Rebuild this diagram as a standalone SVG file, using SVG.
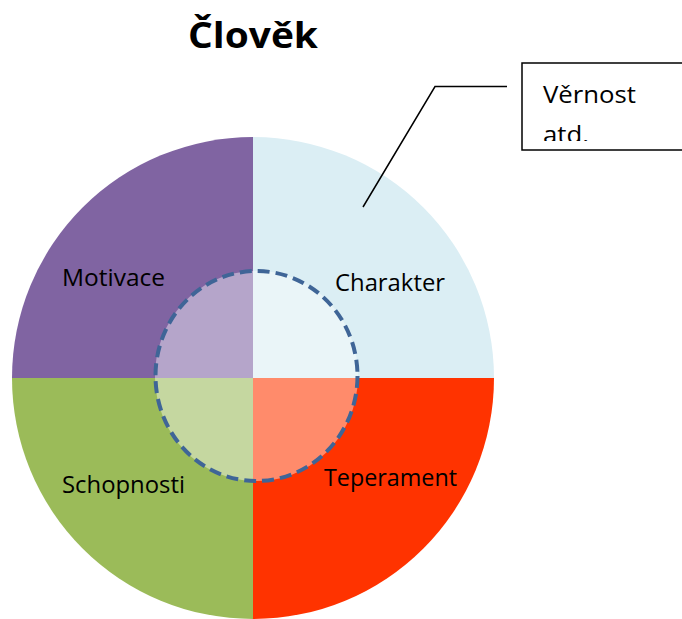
<svg xmlns="http://www.w3.org/2000/svg" width="682" height="619" viewBox="0 0 682 619">
<style>
.lbl{font-family:"Open Sans","Liberation Sans",sans-serif;font-size:24px;fill:#000}
.ttl{font-family:"Open Sans","Liberation Sans",sans-serif;font-size:35px;font-weight:bold;fill:#000}
.cn{fill:none;stroke:#000;stroke-width:1.5}
</style>
<defs>
<clipPath id="boxclip"><rect x="522" y="63" width="160" height="78"/></clipPath>
</defs>
<rect width="682" height="619" fill="#fff"/>
<text class="ttl" x="188" y="48" textLength="130" lengthAdjust="spacingAndGlyphs">Člověk</text>
<g id="motivace">
<path d="M253,378 L12,378 A241,241 0 0 1 253,137 Z" fill="#8064a2"/>
<path d="M253,378 L155,378 A101,105 0 0 1 253,271 Z" fill="#b5a5ca"/>
<text class="lbl" x="62" y="286" textLength="103" lengthAdjust="spacingAndGlyphs">Motivace</text>
</g>
<g id="charakter">
<path d="M253,378 L253,137 A241,241 0 0 1 494,378 Z" fill="#dbeef4"/>
<path d="M253,378 L253,271 A101,105 0 0 1 358,378 Z" fill="#eaf5f8"/>
<text class="lbl" x="335" y="291" textLength="110" lengthAdjust="spacingAndGlyphs">Charakter</text>
</g>
<g id="schopnosti">
<path d="M253,378 L12,378 A241,241 0 0 0 253,619 Z" fill="#9bbb59"/>
<path d="M253,378 L155,378 A101,105 0 0 0 253,481 Z" fill="#c5d7a0"/>
<text class="lbl" x="62" y="493" textLength="123" lengthAdjust="spacingAndGlyphs">Schopnosti</text>
</g>
<g id="teperament">
<path d="M253,378 L253,619 A241,241 0 0 0 494,378 Z" fill="#ff3300"/>
<path d="M253,378 L253,481 A101,105 0 0 0 358,378 Z" fill="#ff8b6b"/>
<text class="lbl" x="324" y="486" textLength="133" lengthAdjust="spacingAndGlyphs">Teperament</text>
</g>
<g id="inner-ring">
<ellipse cx="256.5" cy="376" rx="101" ry="105" fill="none" stroke="#3f6597" stroke-width="4" stroke-dasharray="12 6"/>
</g>
<g id="connectors">
<polyline class="cn" points="363,207 435,86.5 507,86.5"/>
</g>
<g id="callout">
<rect x="522" y="63" width="170" height="87" fill="#fff" stroke="#000" stroke-width="1.5"/>
<g clip-path="url(#boxclip)">
<text class="lbl" x="543" y="103" textLength="93" lengthAdjust="spacingAndGlyphs">Věrnost</text>
<text class="lbl" x="543" y="143" textLength="46" lengthAdjust="spacingAndGlyphs">atd.</text>
</g>
</g>
</svg>
